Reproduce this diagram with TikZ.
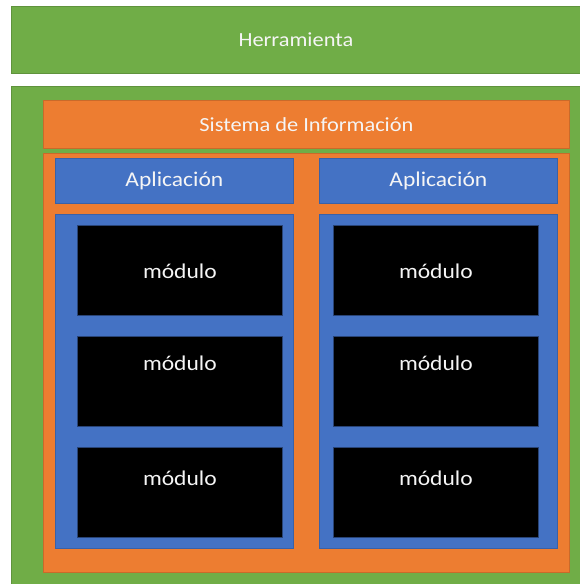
\documentclass[tikz,border=0pt]{standalone}
\usepackage{fontspec}
\setmainfont{Carlito}[FakeStretch=1.12]
\usetikzlibrary{positioning}

\definecolor{herrgreen}{HTML}{70AD47}
\definecolor{sisorange}{HTML}{ED7D31}
\definecolor{appblue}{HTML}{4472C4}

\tikzset{
  box/.style={rectangle, anchor=north west, inner sep=0pt, line width=0.8pt},
  greenbox/.style={box, fill=herrgreen, draw=herrgreen!85!black},
  orangebox/.style={box, fill=sisorange, draw=sisorange!85!black},
  bluebox/.style={box, fill=appblue, draw=appblue!85!black},
  modbox/.style={box, fill=black, draw=appblue!60!black},
  lbl/.style={text=white!92!gray, font=\fontsize{20}{24}\selectfont},
}

\begin{document}
\begin{tikzpicture}[x=1pt, y=-1pt]
\useasboundingbox (0,0) rectangle (580,584);
% tool layer
\node[greenbox, minimum width=569pt, minimum height=67pt] (herr) at (11,6) {};
\node[lbl] at (herr.center) {Herramienta};
\node[greenbox, minimum width=569pt, minimum height=498pt] (herrbody) at (11,86) {};
% information system
\node[orangebox, minimum width=526pt, minimum height=48pt] (sis) at (43,100) {};
\node[lbl] at (sis.center) {Sistema de Información};
\node[orangebox, minimum width=526pt, minimum height=419pt] (sisbody) at (43,153) {};
% applications and their modules
\foreach \x/\dx/\n in {55/22/1, 319/14/2} {
    \node[bluebox, minimum width=238pt, minimum height=45pt] (app\n) at (\x,158) {};
    \node[lbl, font=\fontsize{21}{24}\selectfont] at (app\n.center) {Aplicación};
    \node[bluebox, minimum width=238pt, minimum height=334pt] (appbody\n) at (\x,214) {};
    \foreach \y/\t/\m in {225/46/1, 336/27/2, 447/31/3} {
        \node[modbox, minimum width=205pt, minimum height=90pt] (mod\n\m) at (\x+\dx,\y) {};
        \node[lbl, font=\fontsize{21}{24}\selectfont] at ([yshift=-\t pt]mod\n\m.north) {módulo};
    }
}
\end{tikzpicture}
\end{document}
